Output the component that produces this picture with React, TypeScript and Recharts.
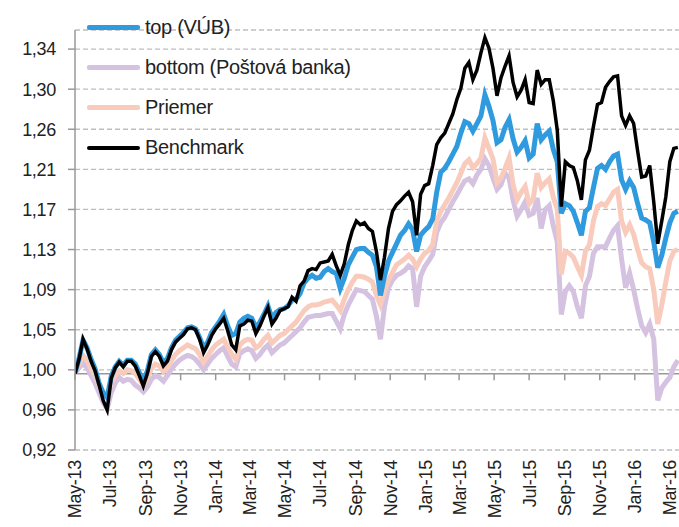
import React from 'react';
import { LineChart, Line, XAxis, YAxis, CartesianGrid, ReferenceLine, Legend } from 'recharts';

// weekly observation days counted from 1 May 2013
const weekDays: number[] = Array.from({ length: 151 }, (_, i) => i * 7);

const benchmark: number[] = [
  1.000, 1.015, 1.036, 1.026, 1.013, 1.003, 0.988, 0.972, 0.962, 0.995,
  1.006, 1.012, 1.007, 1.013, 1.013, 1.008, 0.998, 0.987, 1.000, 1.018,
  1.023, 1.018, 1.008, 1.013, 1.025, 1.033, 1.037, 1.041, 1.047, 1.048,
  1.046, 1.036, 1.022, 1.030, 1.040, 1.047, 1.052, 1.058, 1.045, 1.030,
  1.025, 1.050, 1.052, 1.056, 1.055, 1.042, 1.050, 1.060, 1.069, 1.052,
  1.058, 1.066, 1.068, 1.070, 1.080, 1.076, 1.092, 1.097, 1.108, 1.110,
  1.109, 1.116, 1.117, 1.118, 1.125, 1.113, 1.103, 1.115, 1.135, 1.150,
  1.160, 1.156, 1.158, 1.152, 1.149, 1.128, 1.098, 1.122, 1.152, 1.170,
  1.177, 1.181, 1.186, 1.190, 1.180, 1.145, 1.188, 1.197, 1.199, 1.218,
  1.240, 1.247, 1.252, 1.262, 1.272, 1.287, 1.299, 1.320, 1.326, 1.308,
  1.318, 1.336, 1.352, 1.341, 1.320, 1.291, 1.310, 1.322, 1.333, 1.305,
  1.290, 1.297, 1.308, 1.284, 1.283, 1.318, 1.303, 1.308, 1.308, 1.286,
  1.255, 1.175, 1.222, 1.218, 1.216, 1.202, 1.182, 1.224, 1.234, 1.259,
  1.282, 1.284, 1.300, 1.306, 1.311, 1.312, 1.270, 1.260, 1.270, 1.262,
  1.233, 1.206, 1.207, 1.218, 1.180, 1.136, 1.160, 1.185, 1.222, 1.236,
  1.237,
];

const topVUB: number[] = [
  1.000, 1.016, 1.035, 1.027, 1.015, 1.005, 0.990, 0.980, 0.975, 0.997,
  1.007, 1.013, 1.009, 1.014, 1.014, 1.010, 1.001, 0.992, 1.003, 1.020,
  1.025, 1.020, 1.011, 1.016, 1.027, 1.035, 1.039, 1.043, 1.048, 1.049,
  1.047, 1.038, 1.027, 1.033, 1.043, 1.049, 1.055, 1.062, 1.050, 1.040,
  1.042, 1.054, 1.058, 1.060, 1.058, 1.048, 1.054, 1.062, 1.071, 1.058,
  1.064, 1.067, 1.068, 1.071, 1.077, 1.078, 1.084, 1.095, 1.100, 1.103,
  1.100, 1.101, 1.107, 1.110, 1.107, 1.105, 1.089, 1.100, 1.114, 1.122,
  1.130, 1.131, 1.131, 1.127, 1.124, 1.112, 1.082, 1.102, 1.118, 1.127,
  1.136, 1.145, 1.150, 1.157, 1.151, 1.128, 1.145, 1.150, 1.154, 1.162,
  1.190, 1.211, 1.215, 1.222, 1.230, 1.238, 1.252, 1.264, 1.262, 1.254,
  1.262, 1.270, 1.292, 1.280, 1.265, 1.242, 1.245, 1.258, 1.266, 1.246,
  1.232, 1.237, 1.244, 1.226, 1.230, 1.262, 1.245, 1.250, 1.254, 1.235,
  1.222, 1.168, 1.178, 1.176, 1.170, 1.158, 1.145, 1.170, 1.174, 1.195,
  1.215, 1.218, 1.214, 1.222, 1.228, 1.230, 1.203, 1.193, 1.202, 1.195,
  1.178, 1.163, 1.161, 1.158, 1.138, 1.111, 1.124, 1.142, 1.158, 1.168,
  1.170,
];

const priemer: number[] = [
  1.000, 1.010, 1.019, 1.014, 1.005, 0.998, 0.988, 0.980, 0.977, 0.990,
  0.998, 1.003, 1.000, 1.004, 1.003, 1.000, 0.994, 0.988, 0.995, 1.005,
  1.010, 1.008, 1.002, 1.006, 1.014, 1.020, 1.024, 1.027, 1.030, 1.028,
  1.026, 1.020, 1.012, 1.018, 1.025, 1.030, 1.033, 1.036, 1.028, 1.020,
  1.015, 1.030, 1.034, 1.036, 1.035, 1.027, 1.030, 1.036, 1.040, 1.032,
  1.036, 1.040, 1.042, 1.046, 1.050, 1.054, 1.060, 1.066, 1.070, 1.072,
  1.072, 1.073, 1.075, 1.076, 1.077, 1.072, 1.066, 1.078, 1.088, 1.096,
  1.102, 1.102, 1.101, 1.099, 1.096, 1.082, 1.072, 1.086, 1.098, 1.106,
  1.114, 1.117, 1.120, 1.124, 1.120, 1.112, 1.120, 1.126, 1.129, 1.135,
  1.160, 1.170, 1.177, 1.184, 1.192, 1.200, 1.210, 1.220, 1.224, 1.216,
  1.220, 1.226, 1.247, 1.236, 1.225, 1.200, 1.205, 1.215, 1.226, 1.198,
  1.182, 1.190, 1.196, 1.178, 1.183, 1.210, 1.195, 1.200, 1.204, 1.185,
  1.172, 1.104, 1.128, 1.126, 1.122, 1.112, 1.103, 1.128, 1.135, 1.160,
  1.175, 1.178, 1.176, 1.183, 1.190, 1.193, 1.160, 1.148, 1.156, 1.146,
  1.130, 1.116, 1.112, 1.110, 1.088, 1.052, 1.072, 1.096, 1.118, 1.128,
  1.130,
];

const bottomPB: number[] = [
  1.000, 1.006, 1.011, 1.006, 0.998, 0.990, 0.980, 0.970, 0.963, 0.980,
  0.990, 0.996, 0.992, 0.994, 0.993, 0.988, 0.985, 0.981, 0.986, 0.994,
  0.998, 0.996, 0.992, 0.998, 1.005, 1.010, 1.014, 1.017, 1.019, 1.018,
  1.015, 1.010, 1.004, 1.010, 1.016, 1.020, 1.024, 1.027, 1.018, 1.010,
  1.007, 1.021, 1.024, 1.026, 1.024, 1.016, 1.020, 1.026, 1.030, 1.022,
  1.026, 1.030, 1.032, 1.036, 1.040, 1.044, 1.048, 1.054, 1.059, 1.060,
  1.061, 1.061, 1.062, 1.063, 1.063, 1.055, 1.047, 1.062, 1.072, 1.080,
  1.088, 1.087, 1.086, 1.082, 1.078, 1.060, 1.036, 1.070, 1.090, 1.098,
  1.103, 1.105, 1.108, 1.113, 1.110, 1.070, 1.102, 1.112, 1.118, 1.125,
  1.148, 1.158, 1.164, 1.172, 1.180, 1.187, 1.195, 1.202, 1.204, 1.199,
  1.208, 1.214, 1.225, 1.218, 1.205, 1.193, 1.198, 1.210, 1.205, 1.182,
  1.165, 1.172, 1.180, 1.166, 1.168, 1.184, 1.152, 1.172, 1.176, 1.155,
  1.138, 1.062, 1.086, 1.092, 1.086, 1.070, 1.058, 1.092, 1.102, 1.126,
  1.133, 1.133, 1.133, 1.142, 1.150, 1.155, 1.120, 1.090, 1.105, 1.088,
  1.068, 1.050, 1.043, 1.052, 1.036, 0.972, 0.985, 0.991, 0.996, 1.007,
  1.014,
];

const xTickDays: number[] = [0, 61, 123, 184, 245, 304, 365, 426, 488, 549, 610, 669, 730, 791, 853, 914, 975, 1035];
const xTickLabels: string[] = ['May-13', 'Jul-13', 'Sep-13', 'Nov-13', 'Jan-14', 'Mar-14', 'May-14', 'Jul-14', 'Sep-14', 'Nov-14', 'Jan-15', 'Mar-15', 'May-15', 'Jul-15', 'Sep-15', 'Nov-15', 'Jan-16', 'Mar-16'];
const yTicks: number[] = [0.92, 0.962, 1.004, 1.046, 1.088, 1.13, 1.172, 1.214, 1.256, 1.298, 1.34];
const yTickLabels: string[] = ['0,92', '0,96', '1,00', '1,05', '1,09', '1,13', '1,17', '1,21', '1,26', '1,30', '1,34'];

const series = [
  { key: 'top', name: 'top (VÚB)', color: '#2F9BDE' },
  { key: 'bottom', name: 'bottom (Poštová banka)', color: '#D5C1E0' },
  { key: 'avg', name: 'Priemer', color: '#F8CBBC' },
  { key: 'bench', name: 'Benchmark', color: '#000000' },
];

const data = weekDays.map((d, i) => ({
  day: d,
  top: topVUB[i],
  bottom: bottomPB[i],
  avg: priemer[i],
  bench: benchmark[i],
}));

const FONT = '"Liberation Sans", Arial, sans-serif';

const RotTick = (props: any) => {
  const { x, y, index } = props;
  return (
    <text
      x={x}
      y={y}
      transform={`rotate(-90, ${x}, ${y})`}
      textAnchor="end"
      dy="0.36em"
      fontSize={18}
      fontFamily={FONT}
      letterSpacing={-0.3}
      fill="#222"
    >
      {xTickLabels[index]}
    </text>
  );
};

const LegendContent = () => (
  <div style={{ fontFamily: FONT, fontSize: 20, color: '#222', letterSpacing: -0.3 }}>
    {series.map((s) => (
      <div key={s.key} style={{ display: 'flex', alignItems: 'center', height: 40.2, whiteSpace: 'nowrap' }}>
        <span
          style={{
            display: 'inline-block',
            width: 53,
            height: s.key === 'bench' ? 4 : 5,
            background: s.color,
            borderRadius: 2,
            marginRight: 5,
          }}
        />
        <span>{s.name}</span>
      </div>
    ))}
  </div>
);

export default function App() {
  return (
    <div style={{ position: 'absolute', left: 0, top: 0, width: 679, height: 527, background: '#fff', fontFamily: FONT }}>
      <LineChart width={679} height={527} data={data} margin={{ top: 30, right: 0, left: 0, bottom: 0 }}>
        <CartesianGrid vertical={false} stroke="#BDBDBD" strokeDasharray="5 3" strokeWidth={1.3} />
        <XAxis
          type="number"
          dataKey="day"
          domain={[0, 1052]}
          ticks={xTickDays}
          interval={0}
          axisLine={false}
          tickLine={false}
          tickMargin={4}
          height={77}
          tick={<RotTick />}
          allowDataOverflow
        />
        <YAxis
          type="number"
          domain={[0.92, 1.36]}
          ticks={yTicks}
          interval={0}
          width={75}
          tickSize={7}
          tickMargin={12}
          axisLine={{ stroke: '#999', strokeWidth: 1.5 }}
          tickLine={{ stroke: '#999', strokeWidth: 1.5 }}
          tick={{ fontSize: 18, fill: '#222', fontFamily: FONT, letterSpacing: -0.3 }}
          tickFormatter={(v: number, i: number) => yTickLabels[i]}
          allowDataOverflow
        />
        <ReferenceLine y={1} stroke="#999" strokeWidth={1.5} />
        {xTickDays.map((d) => (
          <ReferenceLine
            key={d}
            segment={[{ x: d, y: 1 }, { x: d, y: 0.993 }]}
            stroke="#999"
            strokeWidth={1.5}
          />
        ))}
        <Line type="linear" dataKey="bottom" stroke="#D5C1E0" strokeWidth={5} dot={false} isAnimationActive={false} />
        <Line type="linear" dataKey="avg" stroke="#F8CBBC" strokeWidth={5} dot={false} isAnimationActive={false} />
        <Line type="linear" dataKey="top" stroke="#2F9BDE" strokeWidth={5} dot={false} isAnimationActive={false} />
        <Line type="linear" dataKey="bench" stroke="#000000" strokeWidth={3.5} dot={false} isAnimationActive={false} />
        <Legend
          layout="vertical"
          verticalAlign="middle"
          align="center"
          content={<LegendContent />}
          wrapperStyle={{ position: 'absolute', left: 87, top: 7, width: 'auto', height: 'auto' }}
        />
      </LineChart>
    </div>
  );
}
